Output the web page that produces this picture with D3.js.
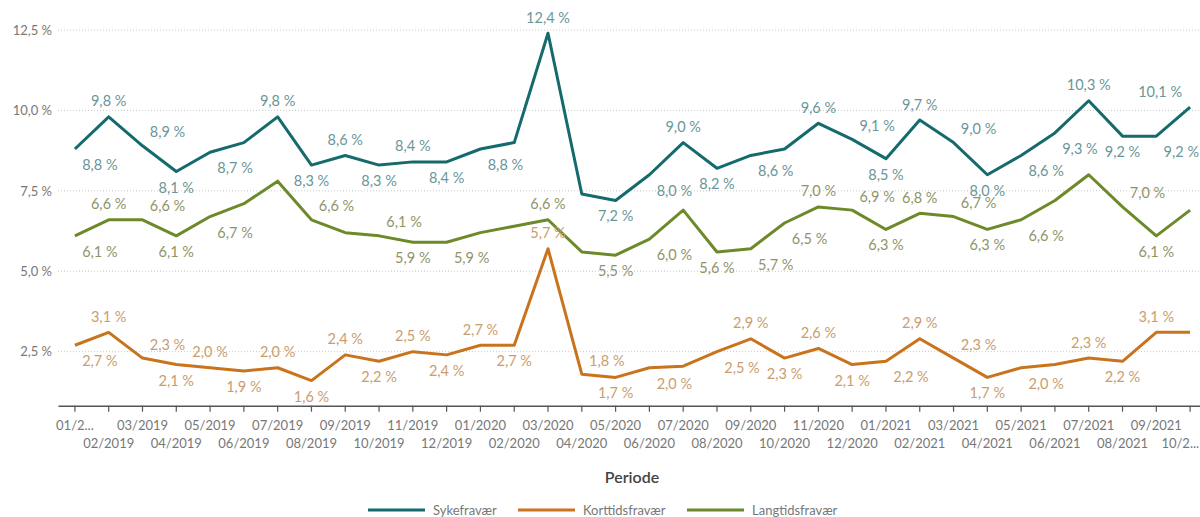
<!DOCTYPE html>
<html><head><meta charset="utf-8">
<script src="https://cdn.jsdelivr.net/npm/d3@7/dist/d3.min.js"></script>
<style>
body{margin:0;background:#fff;}
svg{display:block;font-family:Lato,"Open Sans",sans-serif;}
</style>
</head><body>
<svg id="c" width="1200" height="517"></svg>
<script>
// ---------- data ----------
const months = ["01/2019","02/2019","03/2019","04/2019","05/2019","06/2019","07/2019","08/2019","09/2019","10/2019","11/2019","12/2019",
"01/2020","02/2020","03/2020","04/2020","05/2020","06/2020","07/2020","08/2020","09/2020","10/2020","11/2020","12/2020",
"01/2021","02/2021","03/2021","04/2021","05/2021","06/2021","07/2021","08/2021","09/2021","10/2021"];
const tickLabels = ["01/2...","02/2019","03/2019","04/2019","05/2019","06/2019","07/2019","08/2019","09/2019","10/2019","11/2019","12/2019",
"01/2020","02/2020","03/2020","04/2020","05/2020","06/2020","07/2020","08/2020","09/2020","10/2020","11/2020","12/2020",
"01/2021","02/2021","03/2021","04/2021","05/2021","06/2021","07/2021","08/2021","09/2021","10/2..."];
const seriesNames = ["Sykefravær","Korttidsfravær","Langtidsfravær"];
const sykefravaer = [8.8,9.8,8.9,8.1,8.7,9.0,9.8,8.3,8.6,8.3,8.4,8.4,8.8,9.0,12.4,7.4,7.2,8.0,9.0,8.2,8.6,8.8,9.6,9.1,8.5,9.7,9.0,8.0,8.6,9.3,10.3,9.2,9.2,10.1];
const korttidsfravaer = [2.7,3.1,2.3,2.1,2.0,1.9,2.0,1.6,2.4,2.2,2.5,2.4,2.7,2.7,5.7,1.8,1.7,2.0,2.05,2.5,2.9,2.3,2.6,2.1,2.2,2.9,2.3,1.7,2.0,2.1,2.3,2.2,3.1,3.1];
const langtidsfravaer = [6.1,6.6,6.6,6.1,6.7,7.1,7.8,6.6,6.2,6.1,5.9,5.9,6.2,6.4,6.6,5.6,5.5,6.0,6.9,5.6,5.7,6.5,7.0,6.9,6.3,6.8,6.7,6.3,6.6,7.2,8.0,7.0,6.1,6.9];
const yTickValues = [2.5,5.0,7.5,10.0,12.5];

// ---------- label placement (style config) ----------
// a = above, b = below, ar/br = shifted right, al = shifted left
const labelPlacement = [
 {0:"br",1:"a",2:"ar",3:"b",4:"br",6:"a",7:"b",8:"a",9:"b",10:"a",11:"b",12:"br",14:"a",16:"b",17:"br",18:"a",19:"b",20:"br",22:"a",23:"ar",24:"b",25:"a",26:"ar",27:"b",28:"br",29:"br",30:"a",31:"b",32:"br",33:"al"},
 {0:"br",1:"a",2:"ar",3:"b",4:"a",5:"b",6:"a",7:"b",8:"a",9:"b",10:"a",11:"b",12:"a",13:"b",14:"a",15:"ar",16:"b",17:"br",19:"br",20:"a",21:"b",22:"a",23:"b",24:"br",25:"a",26:"ar",27:"b",28:"br",30:"a",31:"b",32:"a"},
 {0:"br",1:"a",2:"ar",3:"b",4:"br",7:"ar",9:"ar",10:"b",11:"br",14:"a",16:"b",17:"br",19:"b",20:"br",21:"br",22:"a",23:"ar",24:"b",25:"a",26:"ar",27:"b",28:"br",31:"ar",32:"b"}
];
const lineColors = ["#146a6c","#c9741c","#6d8a2a"];
const labelColors = ["#6a9698","#c99d6e","#8f9468"];

// ---------- chart ----------
const svg = d3.select("#c");
const seriesData = [sykefravaer, korttidsfravaer, langtidsfravaer];

const x = d3.scaleBand().domain(d3.range(months.length)).range([58,1207]).padding(0);
const cx = i => x(i) + x.bandwidth()/2;
const y = d3.scaleLinear().domain([0.82,12.5]).range([405.7,30]);

const fmt = v => d3.format(".1f")(v).replace(".", ",") + " %";

// gridlines
svg.append("g").selectAll("line").data(yTickValues).join("line")
  .attr("x1",58).attr("x2",1200)
  .attr("y1",d=>y(d)).attr("y2",d=>y(d))
  .attr("stroke","#c9c9c9").attr("stroke-width",1).attr("stroke-dasharray","1,2");

// y axis
const gy = svg.append("g").attr("transform","translate(58,0)")
  .call(d3.axisLeft(y).tickValues(yTickValues).tickFormat(fmt).tickSize(0).tickPadding(6));
gy.select(".domain").remove();
gy.selectAll("text").attr("fill","#777").style("font-size","13px").style("font-family","Lato");

// x axis
const last = months.length - 1;
const gx = svg.append("g").attr("transform","translate(0,405.7)")
  .call(d3.axisBottom(x).tickFormat(i=>tickLabels[i]).tickSize(6).tickSizeOuter(0).tickPadding(9));
gx.select(".domain").attr("stroke","#555").attr("stroke-width",1.5);
gx.selectAll(".tick line").attr("stroke","#555").attr("stroke-width",1.2);
gx.selectAll(".tick text").attr("fill","#777").style("font-size","13px").style("font-family","Lato")
  .attr("text-anchor", d => d === last ? "end" : "middle")
  .attr("x", d => d === last ? 9 : 0)
  .attr("transform",(d)=> d%2 ? "translate(0,18)" : null);

// axis title
svg.append("text").attr("x",632).attr("y",476).attr("text-anchor","middle").attr("dominant-baseline","central")
  .attr("fill","#444").style("font-size","16px").style("font-weight","600").text("Periode");

// lines
const line = d3.line().x((d,i)=>cx(i)).y(d=>y(d));
seriesData.forEach((s,k)=>{
  svg.append("path").datum(s).attr("d",line).attr("fill","none")
    .attr("stroke",lineColors[k]).attr("stroke-width",3).attr("stroke-linejoin","round").attr("stroke-linecap","butt");
});

// labels
const off = {a:[0,-16],b:[0,15.5],ar:[25,-14],br:[25,15.5],al:[-30,-16]};
seriesData.forEach((s,k)=>{
  const entries = Object.entries(labelPlacement[k]).map(([i,p])=>({i:+i,p,v:s[+i]}));
  svg.append("g").selectAll("text").data(entries).join("text")
    .attr("x",d=>cx(d.i)+off[d.p][0])
    .attr("y",d=>y(d.v)+off[d.p][1])
    .attr("text-anchor","middle").attr("dominant-baseline","central")
    .attr("fill",labelColors[k]).style("font-size","14.5px")
    .text(d=>fmt(d.v));
});

// legend
const legendX = [368,518,687];
const lg = svg.append("g");
seriesNames.forEach((n,k)=>{
  lg.append("line").attr("x1",legendX[k]).attr("x2",legendX[k]+57).attr("y1",510).attr("y2",510)
    .attr("stroke",lineColors[k]).attr("stroke-width",3);
  lg.append("text").attr("x",legendX[k]+65).attr("y",510).attr("dominant-baseline","central")
    .attr("fill","#777").style("font-size","13px").text(n);
});
</script>
</body></html>
